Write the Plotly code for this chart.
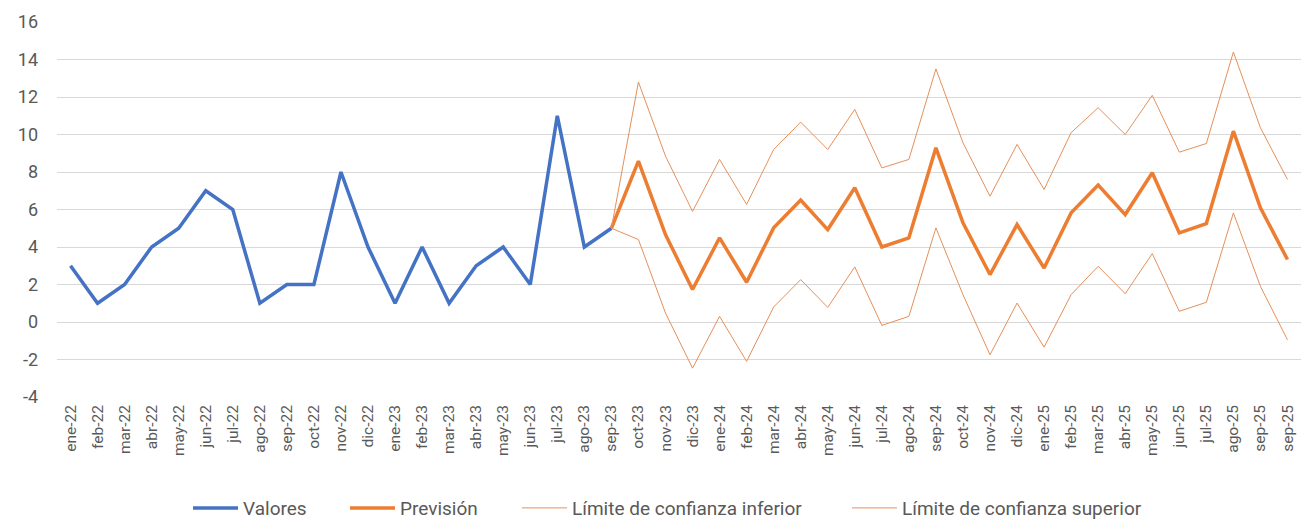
import plotly.graph_objects as go

labels = ["ene-22","feb-22","mar-22","abr-22","may-22","jun-22","jul-22","ago-22","sep-22","oct-22","nov-22","dic-22",
          "ene-23","feb-23","mar-23","abr-23","may-23","jun-23","jul-23","ago-23","sep-23","oct-23","nov-23","dic-23",
          "ene-24","feb-24","mar-24","abr-24","may-24","jun-24","jul-24","ago-24","sep-24","oct-24","nov-24","dic-24",
          "ene-25","feb-25","mar-25","abr-25","may-25","jun-25","jul-25","ago-25","sep-25","sep-25"]

valores = [3, 1, 2, 4, 5, 7, 6, 1, 2, 2, 8, 4, 1, 4, 1, 3, 4, 2, 11, 4, 5]

prevision = [5.0, 8.58, 4.66, 1.73, 4.49, 2.12, 5.02, 6.5, 4.93, 7.16, 4.0, 4.49, 9.29, 5.29, 2.53, 5.2, 2.88,
             5.82, 7.3, 5.73, 7.96, 4.75, 5.25, 10.18, 6.09, 3.33]

lim_inf = [5.0, 4.4, 0.48, -2.46, 0.3, -2.1, 0.8, 2.26, 0.78, 2.94, -0.18, 0.3, 5.02, 1.46, -1.75, 1.01, -1.34,
           1.46, 2.97, 1.51, 3.65, 0.57, 1.05, 5.82, 1.9, -0.95]

lim_sup = [5.0, 12.8, 8.85, 5.9, 8.67, 6.27, 9.2, 10.66, 9.2, 11.34, 8.22, 8.67, 13.5, 9.56, 6.71, 9.47, 7.07,
           10.1, 11.43, 10.0, 12.09, 9.06, 9.52, 14.4, 10.36, 7.6]

y_ticks = [-4, -2, 0, 2, 4, 6, 8, 10, 12, 14, 16]
y_ticktext = ["-4", "-2", "0", "2", "4", "6", "8", "10", "12", "14", "16"]

x_val = list(range(len(valores)))
start = len(valores) - 1
x_fc = list(range(start, start + len(prevision)))

FONT = "Roboto, sans-serif"
GREY = "#595959"
W = 1301

fig = go.Figure()
fig.add_trace(go.Scatter(x=x_val, y=valores, mode="lines", name="Valores", legend="legend",
                         line=dict(color="#4472C4", width=3.5)))
fig.add_trace(go.Scatter(x=x_fc, y=prevision, mode="lines", name="Previsión", legend="legend2",
                         line=dict(color="#ED7D31", width=3.5)))
fig.add_trace(go.Scatter(x=x_fc, y=lim_inf, mode="lines", name="Límite de confianza inferior", legend="legend3",
                         line=dict(color="#E5905A", width=1)))
fig.add_trace(go.Scatter(x=x_fc, y=lim_sup, mode="lines", name="Límite de confianza superior", legend="legend4",
                         line=dict(color="#E5905A", width=1)))

def leg(px):
    return dict(orientation="h", x=px / W, xanchor="left", xref="container",
                y=0.023, yanchor="middle", yref="container",
                font=dict(family=FONT, size=19, color=GREY), itemwidth=45,
                bgcolor="rgba(0,0,0,0)", borderwidth=0)

fig.update_layout(
    width=W, height=520,
    margin=dict(l=57, r=0, t=22, b=123, autoexpand=False),
    paper_bgcolor="white", plot_bgcolor="white",
    font=dict(family=FONT, size=18, color=GREY),
    showlegend=True,
    legend=leg(188), legend2=leg(345), legend3=leg(517), legend4=leg(847),
    xaxis=dict(range=[-0.5, len(labels) - 0.5], tickmode="array",
               tickvals=list(range(len(labels))), ticktext=labels,
               tickangle=-90, showgrid=False, zeroline=False, showline=False,
               ticks="", automargin=False, ticklabelstandoff=4,
               tickfont=dict(family=FONT, size=15.5, color=GREY)),
    yaxis=dict(range=[-4, 16], tickmode="array", tickvals=y_ticks, ticktext=y_ticktext,
               showgrid=True, gridcolor="#D9D9D9", gridwidth=1,
               zeroline=False, showline=False, ticks="", automargin=False,
               ticklabelstandoff=18,
               tickfont=dict(family=FONT, size=18, color=GREY)),
)

fig.write_html("out.html")
